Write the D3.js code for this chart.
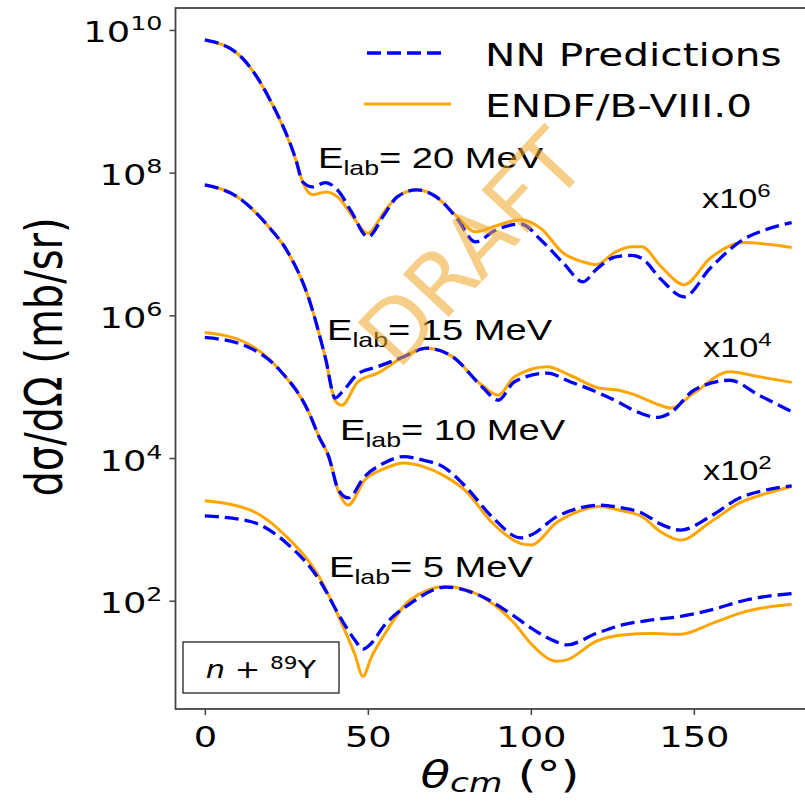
<!DOCTYPE html>
<html lang="en">
<head>
<meta charset="utf-8">
<title>n + 89Y angular distributions</title>
<script src="https://cdn.jsdelivr.net/npm/d3@7"></script>
<style>
  body { margin: 0; background: #fff; }
  text { font-family: "DejaVu Sans", sans-serif; fill: #000; }
</style>
</head>
<body>
<script>
// values are log10 of dsigma/dOmega (mb/sr), already multiplied by the offsets shown in the plot
var ang20  = [0, 10, 20, 28, 30, 33, 37, 41, 45, 50, 55, 59, 65, 71, 77, 83, 89, 97, 103, 110, 116, 120, 126, 131, 134, 140, 147, 155, 165, 172, 180];
var endf20 = [9.86, 9.67, 9.02, 8.17, 7.87, 7.69, 7.73, 7.65, 7.41, 7.15, 7.45, 7.66, 7.76, 7.66, 7.40, 7.17, 7.25, 7.34, 7.22, 6.87, 6.75, 6.71, 6.89, 6.96, 6.96, 6.68, 6.43, 6.80, 7.02, 7.00, 6.95];
var nn20   = [9.86, 9.67, 9.02, 8.17, 7.87, 7.80, 7.86, 7.74, 7.45, 7.10, 7.41, 7.66, 7.76, 7.66, 7.38, 7.03, 7.19, 7.28, 7.06, 6.73, 6.47, 6.64, 6.82, 6.84, 6.80, 6.50, 6.26, 6.66, 7.06, 7.20, 7.30];

var ang15  = [0, 10, 20, 25, 32, 37, 40, 42, 47, 53, 61, 68, 76, 85, 90, 95, 105, 112, 121, 127, 131, 139, 143, 150, 161, 170, 180];
var endf15 = [7.83, 7.66, 7.22, 6.92, 6.22, 5.40, 4.80, 4.74, 5.07, 5.19, 5.42, 5.54, 5.42, 5.02, 4.88, 5.14, 5.28, 5.16, 4.98, 4.95, 4.90, 4.75, 4.70, 4.91, 5.21, 5.14, 5.06];
var nn15   = [7.83, 7.66, 7.22, 6.92, 6.22, 5.40, 4.84, 4.92, 5.18, 5.28, 5.42, 5.54, 5.42, 5.00, 4.81, 5.07, 5.19, 5.07, 4.91, 4.78, 4.68, 4.57, 4.64, 4.95, 5.09, 4.88, 4.65];

var ang10  = [0, 12, 23, 32, 35, 38, 41, 44, 49, 55, 61, 67, 73, 80, 88, 97, 100, 108, 115, 121, 128, 134, 140, 146, 155, 164, 172, 180];
var endf10 = [5.76, 5.63, 5.23, 4.63, 4.30, 4.02, 3.53, 3.34, 3.69, 3.85, 3.93, 3.88, 3.76, 3.54, 3.10, 2.80, 2.78, 3.10, 3.26, 3.32, 3.26, 3.18, 2.96, 2.85, 3.10, 3.37, 3.50, 3.60];
var nn10   = [5.69, 5.58, 5.23, 4.63, 4.30, 4.02, 3.55, 3.44, 3.74, 3.93, 4.02, 3.97, 3.88, 3.60, 3.18, 2.88, 2.92, 3.18, 3.30, 3.34, 3.30, 3.23, 3.07, 2.99, 3.18, 3.44, 3.55, 3.61];

var ang5   = [0, 14, 25, 35, 42, 46, 48.5, 51, 55, 63, 74, 84, 95, 100, 108, 111, 120, 128, 137, 146, 156, 166, 180];
var endf5  = [3.40, 3.27, 2.90, 2.34, 1.68, 1.25, 0.94, 1.20, 1.52, 2.01, 2.20, 2.08, 1.68, 1.40, 1.15, 1.17, 1.43, 1.52, 1.54, 1.53, 1.69, 1.85, 1.95];
var nn5    = [3.19, 3.11, 2.81, 2.30, 1.73, 1.45, 1.32, 1.40, 1.65, 1.96, 2.19, 2.08, 1.78, 1.62, 1.42, 1.38, 1.54, 1.66, 1.73, 1.78, 1.88, 2.01, 2.10];

var energies   = ["20", "15", "10", "5"];
var scaleExp   = ["6", "4", "2", null];
var xTicks     = [0, 50, 100, 150];
var yTickExp   = [2, 4, 6, 8, 10];
var legendText = ["NN Predictions", "ENDF/B-VIII.0"];

var W = 805, H = 801;
var S = 1.27; // the original figure is stretched sideways

var svg = d3.select("body").append("svg")
    .attr("width", W)
    .attr("height", H);

var x = d3.scaleLinear().domain([-9, 189]).range([175.5, 821]);
var y = d3.scaleLog().domain([Math.pow(10, 0.482), Math.pow(10, 10.308)]).range([709, 8]);

// curves
var line = d3.line()
    .x(function(d) { return x(d[0]); })
    .y(function(d) { return y(Math.pow(10, d[1])); })
    .curve(d3.curveMonotoneX);

function pairs(a, v) { return a.map(function(t, i) { return [t, v[i]]; }); }

var sets = [
  [ang20, endf20, nn20],
  [ang15, endf15, nn15],
  [ang10, endf10, nn10],
  [ang5, endf5, nn5]
];

var plot = svg.append("g");
sets.forEach(function(s) {
  plot.append("path")
      .attr("d", line(pairs(s[0], s[1])))
      .attr("fill", "none")
      .attr("stroke", "orange")
      .attr("stroke-width", 3);
});
sets.forEach(function(s) {
  plot.append("path")
      .attr("d", line(pairs(s[0], s[2])))
      .attr("fill", "none")
      .attr("stroke", "blue")
      .attr("stroke-width", 3.3)
      .attr("stroke-dasharray", "14,6");
});

// frame
svg.append("rect")
    .attr("x", 175.5).attr("y", 8)
    .attr("width", 645.5).attr("height", 701)
    .attr("fill", "none")
    .attr("stroke", "#444")
    .attr("stroke-width", 1.8);

// axes
var xAxis = svg.append("g")
    .attr("transform", "translate(0,709)")
    .call(d3.axisBottom(x).tickValues(xTicks).tickSize(6).tickFormat(""));
xAxis.select(".domain").remove();
xAxis.selectAll(".tick line").attr("stroke", "#444").attr("stroke-width", 1.5);
xAxis.selectAll(".tick").append("text")
    .attr("transform", "translate(0,38) scale(" + S + ",1)")
    .attr("text-anchor", "middle")
    .style("font-size", "29px")
    .text(function(d) { return d; });

var yAxis = svg.append("g")
    .attr("transform", "translate(175.5,0)")
    .call(d3.axisLeft(y).tickValues(yTickExp.map(function(e) { return Math.pow(10, e); })).tickSize(6).tickFormat(""));
yAxis.select(".domain").remove();
yAxis.selectAll(".tick line").attr("stroke", "#444").attr("stroke-width", 1.5);
var yl = yAxis.selectAll(".tick").append("text")
    .attr("transform", "translate(-13,12) scale(" + S + ",1)")
    .attr("text-anchor", "end")
    .style("font-size", "29px");
yl.append("tspan").text("10");
yl.append("tspan")
    .attr("dy", -12)
    .style("font-size", "20px")
    .text(function(d) { return Math.round(Math.log10(d)); });

// axis titles
var xt = svg.append("text")
    .attr("transform", "translate(500,787) scale(" + S + ",1)")
    .attr("text-anchor", "middle")
    .style("font-size", "38px");
xt.append("tspan").style("font-style", "italic").text("θ");
xt.append("tspan").style("font-style", "italic").style("font-size", "27px").attr("dy", 5).text("cm");
xt.append("tspan").attr("dy", -5).text(" (°)");

svg.append("text")
    .attr("transform", "translate(62,357) scale(" + S + ",1) rotate(-90)")
    .attr("text-anchor", "middle")
    .style("font-size", "40px")
    .text("dσ/dΩ (mb/sr)");

// energy labels
var eLab = [[318, 168], [327, 340], [340, 440], [329, 577]];
energies.forEach(function(e, i) {
  var t = svg.append("text")
      .attr("transform", "translate(" + eLab[i][0] + "," + eLab[i][1] + ") scale(" + S + ",1)")
      .style("font-family", "Liberation Sans, Arial, sans-serif")
      .style("font-size", "30px");
  t.append("tspan").text("E");
  t.append("tspan").attr("dy", 7).style("font-size", "21px").text("lab");
  t.append("tspan").attr("dy", -7).text("= " + e + " MeV");
});

// scale factor labels
var mulPos = [[702, 208], [703, 357], [703, 480]];
scaleExp.forEach(function(p, i) {
  if (!p) return;
  var t = svg.append("text")
      .attr("transform", "translate(" + mulPos[i][0] + "," + mulPos[i][1] + ") scale(" + S + ",1)")
      .style("font-family", "Liberation Sans, Arial, sans-serif")
      .style("font-size", "27px");
  t.append("tspan").text("x10");
  t.append("tspan").attr("dy", -11).style("font-size", "19px").text(p);
});

// legend
var leg = svg.append("g");
leg.append("line")
    .attr("x1", 367).attr("x2", 447).attr("y1", 53).attr("y2", 53)
    .attr("stroke", "blue").attr("stroke-width", 3.3).attr("stroke-dasharray", "14,6");
leg.append("line")
    .attr("x1", 364).attr("x2", 451).attr("y1", 104).attr("y2", 104)
    .attr("stroke", "orange").attr("stroke-width", 3);
legendText.forEach(function(s, i) {
  leg.append("text")
      .attr("transform", "translate(485," + (66 + i * 51) + ") scale(" + S + ",1)")
      .style("font-size", "32px")
      .text(s);
});

// nucleus box
svg.append("rect")
    .attr("x", 183).attr("y", 642)
    .attr("width", 156).attr("height", 51)
    .attr("fill", "white")
    .attr("stroke", "#222")
    .attr("stroke-width", 1.3);
var nb = svg.append("text")
    .attr("transform", "translate(261,678) scale(" + S + ",1)")
    .attr("text-anchor", "middle")
    .style("font-size", "24px");
nb.append("tspan").style("font-style", "italic").text("n");
nb.append("tspan").text(" + ");
nb.append("tspan").attr("dy", -9).style("font-size", "17px").text("89");
nb.append("tspan").attr("dy", 9).text("Y");

// watermark
svg.append("text")
    .attr("transform", "translate(472,248) rotate(-47)")
    .attr("text-anchor", "middle")
    .attr("dy", "0.35em")
    .style("font-size", "86px")
    .style("fill", "#eea526")
    .style("fill-opacity", 0.55)
    .text("DRAFT");
</script>
</body>
</html>
